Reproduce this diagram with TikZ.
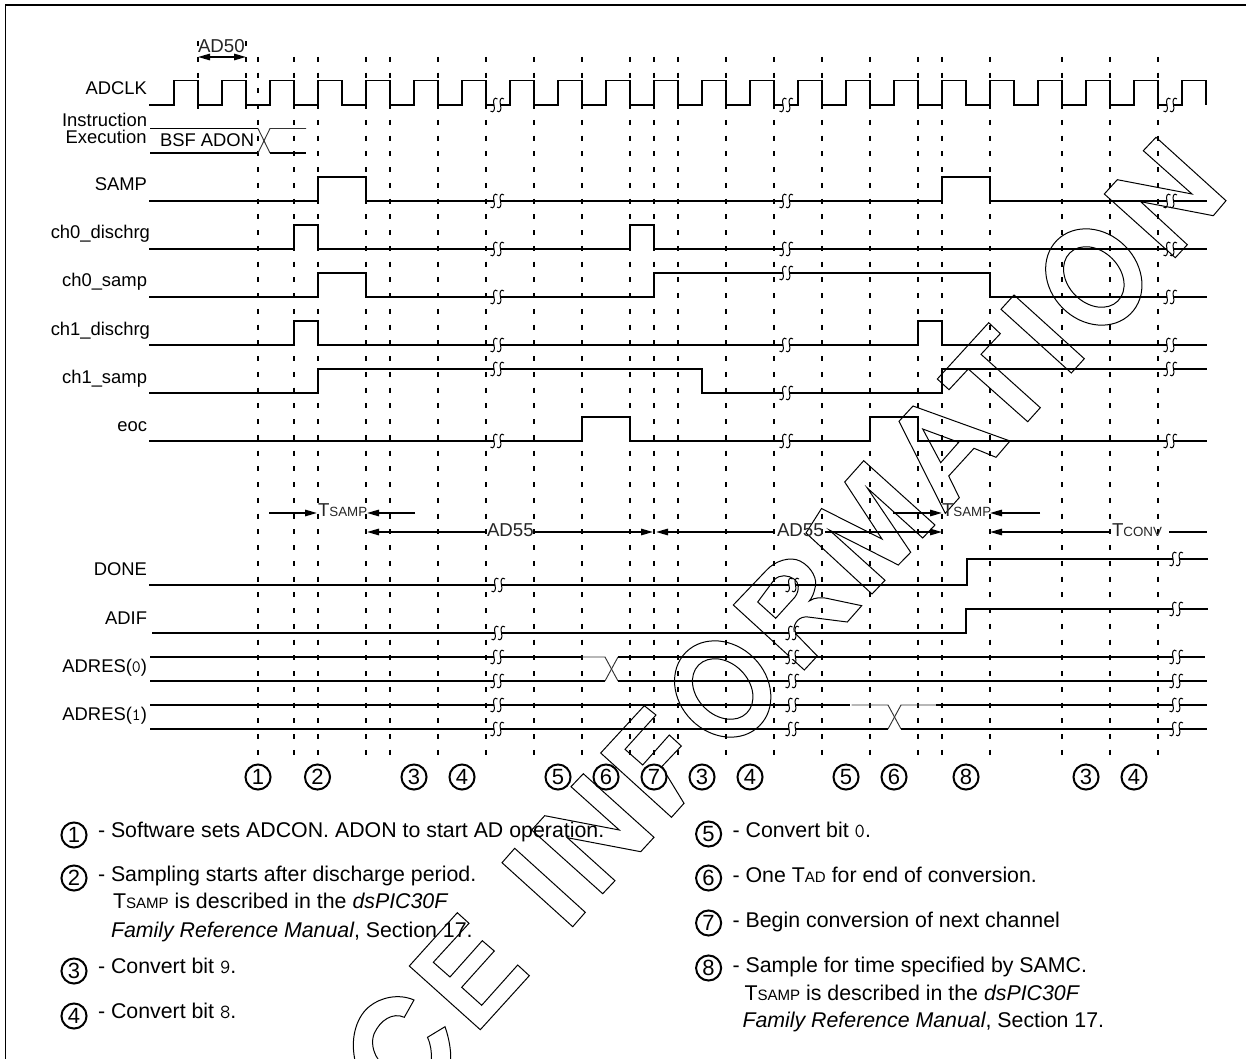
\documentclass[tikz,border=0pt]{standalone}
\usepackage{fontspec}
\usetikzlibrary{arrows.meta}
\setmainfont{Liberation Sans}
\newcommand{\smcp}[1]{{\fontsize{10pt}{10pt}\selectfont #1}}
\newcommand{\smcq}[1]{{\fontsize{11.3pt}{12pt}\selectfont #1}}
\newcommand{\dgt}[1]{{\ttfamily\fontsize{15pt}{15pt}\selectfont #1}}
\tikzset{
  frameline/.style={line width=1.25pt},
  guide/.style={line width=1.45pt, dash pattern=on 3.75pt off 8.06pt},
  sig/.style={line width=1.25pt, line join=miter},
  sigthin/.style={line width=0.7pt, black!80},
  wm/.style={line width=0.75pt, line join=miter},
  brkline/.style={line width=0.75pt},
  dim/.style={line width=1.25pt, -{Triangle[length=9pt,width=4.8pt]}},
  plain/.style={line width=1.25pt},
  lab/.style={inner sep=0pt, outer sep=0pt, font=\fontsize{13.8pt}{14pt}\selectfont},
  leg/.style={inner sep=0pt, outer sep=0pt, font=\fontsize{16pt}{16pt}\selectfont},
  tlab/.style={lab, black!85, font=\fontsize{14pt}{14pt}\selectfont},
  cnum/.style={circle, draw, fill=white, line width=1.5pt, minimum size=18.8pt, inner sep=0pt, font=\fontsize{16.5pt}{16.5pt}\selectfont},
  sbreak/.pic={
    \fill[white] (-3,-1.5) rectangle (3.5,1.5);
    \draw[brkline] (-6.5,6) .. controls (-4,8.5) and (-1.5,5) .. (-3,0) .. controls (-4.5,-5) and (-2.5,-8.5) .. (0.5,-6);
    \draw[brkline] (0,6) .. controls (2.5,8.5) and (5,5) .. (3.5,0) .. controls (2,-5) and (4,-8.5) .. (7,-6);
  }
}
\begin{document}
\begin{tikzpicture}[x=0.75pt,y=-0.75pt]
\useasboundingbox (0,0) rectangle (1246,1059);
\fill[white] (0,0) rectangle (1246,1059);

% watermark
\begin{scope}[wm]
% C
\draw (354.7,1059) .. controls (350,1035) and (358,1015) .. (370,1006) .. controls (380,998) and (398,993) .. (414,1000) -- (404.3,1017.3) .. controls (393,1012) and (380,1020) .. (374,1034) .. controls (371,1042) and (373,1052) .. (378,1059);
\draw (431.5,1059) .. controls (431.5,1052) and (431,1045) .. (427.5,1037.3) -- (445,1026.7) .. controls (449,1038) and (451,1050) .. (450.7,1059);
% E
\draw (409.3,966) -- (457.3,912.7) -- (469,923.3) -- (433.3,962.3) -- (450,977) -- (482.3,940.7) -- (494.3,951) -- (461.7,987.3) -- (481.7,1005.3) -- (517.7,965) -- (529.3,975.7) -- (480.3,1029.7) -- cycle;
% I
\draw (514.7,848.3) -- (585.3,912.3) -- (572.7,926.7) -- (502,862.7) -- cycle;
% N
\draw (583.3,773.7) -- (654,837.3) -- (640.7,851.7) -- (567.3,837.7) -- (615,880.7) -- (602.7,893.7) -- (531.7,830) -- (544.7,815.7) -- (619.3,830) -- (571,786.7) -- cycle;
% F
\draw (600.7,753) -- (644.3,705.7) -- (656,715) -- (625,749.3) -- (642.7,765) -- (669.3,735) -- (681.3,746) -- (661.7,766.7) -- (684,803.3) -- (671.5,817.3) -- cycle;
% O
\draw (722.7,689) ellipse [x radius=52, y radius=44, rotate=-45];
\draw (722.7,689) ellipse [x radius=34, y radius=26, rotate=-45];
% R
\draw (733.3,605) -- (766.7,570) .. controls (775,561) and (790,556) .. (800,561) .. controls (812,567) and (818,580) .. (815,588) .. controls (814,593) and (812,598) .. (809.3,601) .. controls (815,597) and (822,597) .. (830,599) -- (861.7,605.7) -- (847.3,622) -- (808,617) .. controls (800,616) and (793,622) .. (794,632) -- (817.3,656) -- (804.3,670) -- cycle;
\draw (757.7,602) -- (775.7,618.3) -- (795,597) .. controls (800,590) and (799,582) .. (794,579) .. controls (788,575) and (780,574) .. (774,580) -- cycle;
% M
\draw (863.7,460.7) -- (935,525) -- (922.7,538) -- (867.3,488) -- (910.7,552.3) -- (898.3,565) -- (829.3,530) -- (885,580.3) -- (872,594) -- (806,533) -- (821.5,508.5) -- (882,539) -- (844.7,482) -- cycle;
% A
\draw (913,406) -- (1010,441) -- (996,457.3) -- (974,448.3) -- (948.7,476) -- (959.3,497.7) -- (945.3,513.3) -- (899,421.3) -- cycle;
\draw (922.7,429) -- (958.7,442.3) -- (940.7,462.7) -- cycle;
% T
\draw (988.7,322.7) -- (1000.3,333.7) -- (981,354.3) -- (1040.3,407.7) -- (1027.7,421.7) -- (968.3,369) -- (949,389.7) -- (937.3,379) -- cycle;
% I
\draw (1014,295) -- (1084.3,358.7) -- (1071.3,373) -- (1001,309.3) -- cycle;
% O
\draw (1093.8,277) ellipse [x radius=52, y radius=44, rotate=-45];
\draw (1093.8,277) ellipse [x radius=34, y radius=26, rotate=-45];
% N
\draw (1156,137.3) -- (1226,200.7) -- (1213.3,215.7) -- (1140.7,201.7) -- (1187.3,244.7) -- (1175.3,257.7) -- (1104.3,194) -- (1117.3,179.7) -- (1192,194) -- (1143.3,150.7) -- cycle;
\end{scope}

% frame
\draw[frameline] (5.5,1059) -- (5.5,5) -- (1246,5);

% guides
\foreach \x in {258,294,318,366,390,438,486,534,582,630,654,678,726,774,822,870,918,942,990,1062,1110,1158}
  \draw[guide] (\x,57) -- (\x,756);
\foreach \x in {198,246}
  \draw[guide] (\x,41.5) -- (\x,120);

% ADCLK
\draw[sig] (149,105) foreach \r in {174,222,...,1182}{ -- (\r,105) -- (\r,80.5) -- ({\r+24},80.5) -- ({\r+24},105) };
\foreach \x in {497,786,1170} \pic at (\x,105) {sbreak};

% Instruction execution
\draw[sig] (150,128.5) -- (258,128.5);
\draw[sig] (150,153) -- (258,153);
\draw[sigthin] (258,128.5) -- (270,153);
\draw[sigthin] (258,153) -- (270,128.5) -- (306,128.5);
\draw[sig] (270,153) -- (306,153);

% SAMP
\draw[sig] (149,201) -| (318,177) -| (366,201) -- (942,201) |- (990,177) |- (1207,201);
\foreach \x in {497,786,1170} \pic at (\x,201) {sbreak};
% ch0_dischrg
\draw[sig] (149,249) -| (294,225) -| (318,249) -| (630,225) -| (654,249) -- (1207,249);
\foreach \x in {497,786,1170} \pic at (\x,249) {sbreak};
% ch0_samp
\draw[sig] (149,297) -| (318,273) -| (366,297) -| (654,273) -| (990,297) -- (1207,297);
\pic at (497,297) {sbreak}; \pic at (786,273) {sbreak}; \pic at (1170,297) {sbreak};
% ch1_dischrg
\draw[sig] (149,345) -| (294,321) -| (318,345) -| (918,321) -| (942,345) -- (1207,345);
\foreach \x in {497,786,1170} \pic at (\x,345) {sbreak};
% ch1_samp
\draw[sig] (149,393) -| (318,369) -| (702,393) -| (942,369) -- (1207,369);
\pic at (497,369) {sbreak}; \pic at (786,393) {sbreak}; \pic at (1170,369) {sbreak};
% eoc
\draw[sig] (149,441) -| (582,417) -| (630,441) -| (870,417) -| (918,441) -- (1207,441);
\foreach \x in {497,786,1170} \pic at (\x,441) {sbreak};
% DONE
\draw[sig] (149,585) -| (967,559) -- (1208,559);
\pic at (498,585) {sbreak}; \pic at (792,585) {sbreak}; \pic at (1176,559) {sbreak};
% ADIF
\draw[sig] (152,633) -| (966,609) -- (1208,609);
\pic at (498,633) {sbreak}; \pic at (792,633) {sbreak}; \pic at (1176,609) {sbreak};
% ADRES(0)
\draw[sig] (150,657) -- (582,657);
\draw[sigthin] (582,657) -- (605,657) -- (618,681);
\draw[sig] (150,681) -- (605,681);
\draw[sigthin] (605,681) -- (618,657);
\draw[sig] (618,657) -- (1205,657);
\draw[sig] (618,681) -- (1207,681);
\foreach \x in {497,792,1176} {\pic at (\x,657) {sbreak}; \pic at (\x,681) {sbreak};}
% ADRES(1)
\draw[sig] (150,705) -- (850,705);
\draw[sigthin] (851.5,705) -- (888,705) -- (901,729);
\draw[sig] (150,729) -- (888,729);
\draw[sigthin] (888,729) -- (901,705) -- (936,705);
\draw[sig] (936,705) -- (1207,705);
\draw[sig] (901,729) -- (1207,729);
\foreach \x in {497,792,1176} {\pic at (\x,705) {sbreak}; \pic at (\x,729) {sbreak};}

% timing arrows
\draw[line width=1.25pt, {Triangle[length=9pt,width=4.8pt]}-{Triangle[length=9pt,width=4.8pt]}] (198,57) -- (246,57);
\node[tlab, anchor=base west] (ad50) at (198,53) {AD50};

\node[tlab, anchor=base west] (ts1) at (318,516.7) {T\smcp{SAMP}};
\draw[dim] (269,513) -- (317,513);
\draw[dim] (415,513) -- (367,513);
\node[tlab, anchor=base west] (ts2) at (942,516.7) {T\smcp{SAMP}};
\draw[dim] (893,513) -- (942,513);
\draw[dim] (1040,513) -- (990,513);

\node[tlab, anchor=base west] (ad55a) at (487,536.5) {AD55};
\node[tlab, anchor=base west] (ad55b) at (777,536.5) {AD55};
\node[tlab, anchor=base west] (tconv) at (1112,536.5) {T\smcp{CONV}};
\draw[dim] (486,532) -- (367,532);
\draw[dim] (534,532) -- (653,532);
\draw[dim] (774,532) -- (656,532);
\draw[dim] (825,532) -- (942,532);
\draw[dim] (1111,532) -- (990,532);
\draw[plain] (1169,532) -- (1207,532);

% BSF
\node[lab, anchor=base west, font=\fontsize{13.8pt}{15pt}\selectfont] (bsf) at (160,147) {BSF ADON};

% signal labels
\node[lab, anchor=base east] (l1) at (147,95) {ADCLK};
\node[lab, anchor=base east] (l2) at (147,127) {Instruction};
\node[lab, anchor=base east] (l3) at (146.5,143.5) {Execution};
\node[lab, anchor=base east] (l4) at (147,191) {SAMP};
\node[lab, anchor=base east] (l5) at (150,239) {ch0\_dischrg};
\node[lab, anchor=base east] (l6) at (147,287) {ch0\_samp};
\node[lab, anchor=base east] (l7) at (150,335) {ch1\_dischrg};
\node[lab, anchor=base east] (l8) at (147,383) {ch1\_samp};
\node[lab, anchor=base east] (l9) at (147,431) {eoc};
\node[lab, anchor=base east] (l10) at (147,575) {DONE};
\node[lab, anchor=base east] (l11) at (147,624) {ADIF};
\node[lab, anchor=base east] (l12) at (147,672) {ADRES({\ttfamily\fontsize{13pt}{13pt}\selectfont 0})};
\node[lab, anchor=base east] (l13) at (147,720) {ADRES({\ttfamily\fontsize{13pt}{13pt}\selectfont 1})};

% numbered markers along the axis
\node[cnum] (m1) at (258,777) {1};
\node[cnum] (m2) at (317.5,777) {2};
\node[cnum] (m3) at (414,777) {3};
\node[cnum] (m4) at (462,777) {4};
\node[cnum] (m5) at (558,777) {5};
\node[cnum] (m6) at (606,777) {6};
\node[cnum] (m7) at (654,777) {7};
\node[cnum] (m8) at (702,777) {3};
\node[cnum] (m9) at (750,777) {4};
\node[cnum] (m10) at (846,777) {5};
\node[cnum] (m11) at (894,777) {6};
\node[cnum] (m12) at (966,777) {8};
\node[cnum] (m13) at (1086,777) {3};
\node[cnum] (m14) at (1134,777) {4};

% left legend
\node[cnum] (a1) at (74,835) {1};
\node[cnum] (a2) at (74,878) {2};
\node[cnum] (a3) at (74,971) {3};
\node[cnum] (a4) at (74,1016) {4};
\node[leg, anchor=base west] (t1) at (98,837.3) {- Software sets ADCON. ADON to start AD operation.};
\node[leg, anchor=base west] (t2) at (98,881.7) {- Sampling starts after discharge period.};
\node[leg, anchor=base west] (t2b) at (113,908) {T\smcq{SAMP} is described in the \textit{dsPIC30F}};
\node[leg, anchor=base west] (t2c) at (111,937) {\textit{Family Reference Manual}, Section 17.};
\node[leg, anchor=base west] (t3) at (98,973) {- Convert bit \dgt{9}.};
\node[leg, anchor=base west] (t4) at (98,1018) {- Convert bit \dgt{8}.};

% right legend
\node[cnum] (b5) at (708.6,834) {5};
\node[cnum] (b6) at (708.6,878) {6};
\node[cnum] (b7) at (708.6,923) {7};
\node[cnum] (b8) at (708.6,968) {8};
\node[leg, anchor=base west] (t5) at (732.6,837) {- Convert bit \dgt{0}.};
\node[leg, anchor=base west] (t6) at (732.6,882) {- One T\smcq{AD} for end of conversion.};
\node[leg, anchor=base west] (t7) at (732.6,927) {- Begin conversion of next channel};
\node[leg, anchor=base west] (t8) at (732.6,972) {- Sample for time specified by SAMC.};
\node[leg, anchor=base west] (t8b) at (744.5,1000) {T\smcq{SAMP} is described in the \textit{dsPIC30F}};
\node[leg, anchor=base west] (t8c) at (742.5,1027) {\textit{Family Reference Manual}, Section 17.};
\end{tikzpicture}
\end{document}
